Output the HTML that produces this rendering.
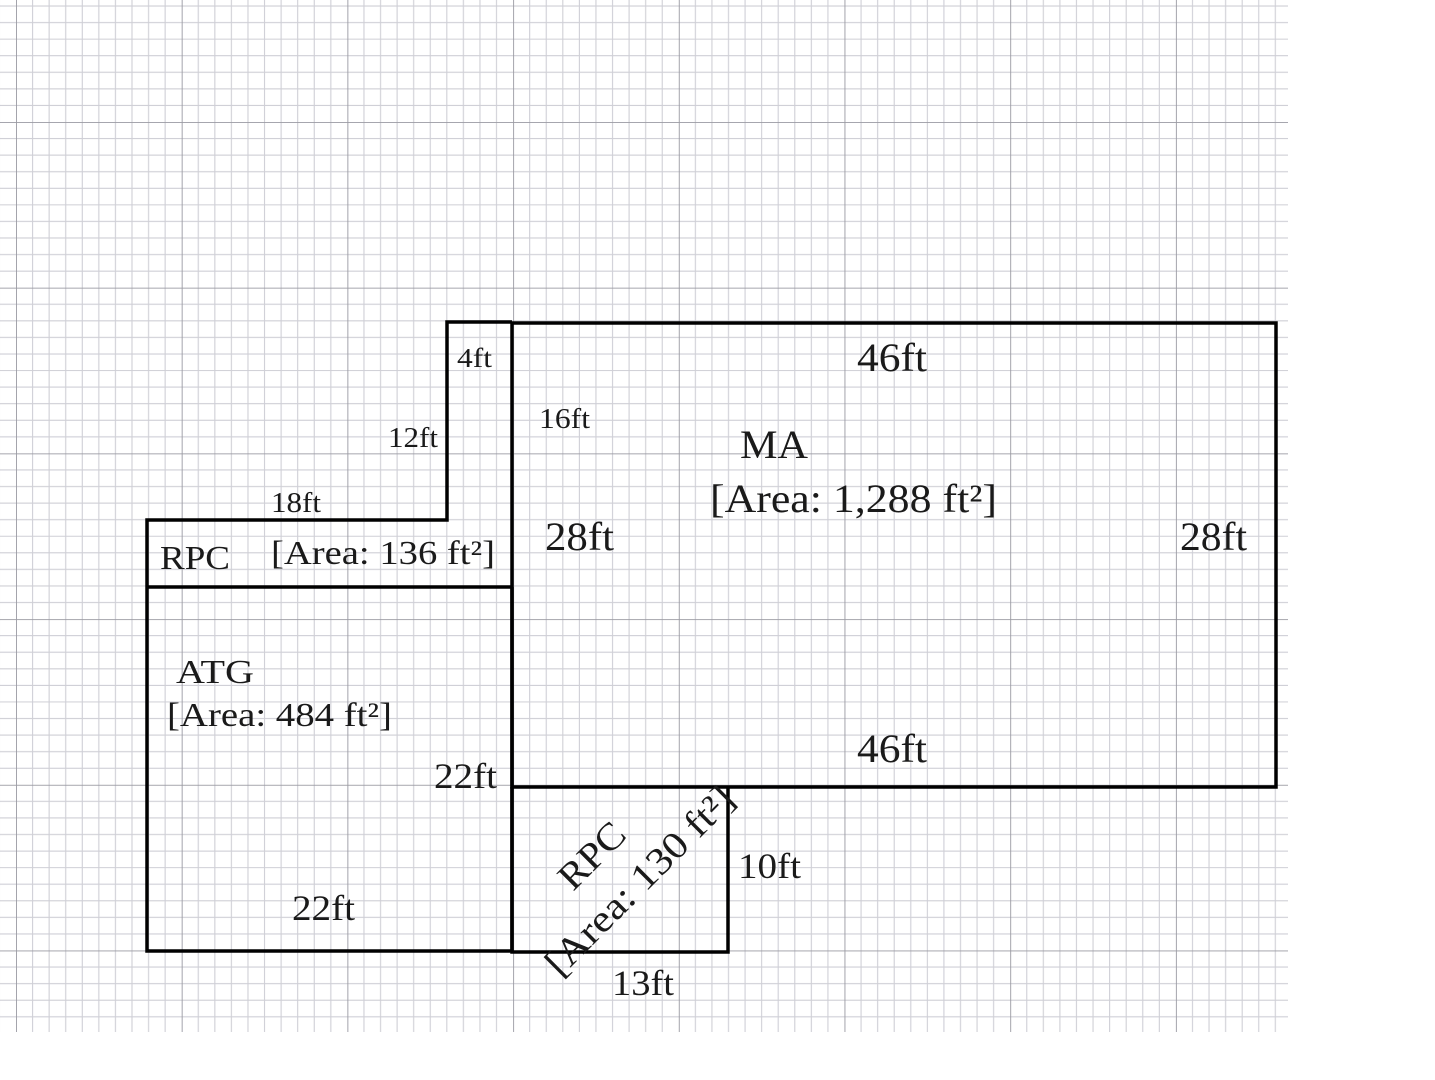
<!DOCTYPE html>
<html><head><meta charset="utf-8"><style>
html,body{margin:0;padding:0;background:#fff;}
svg{display:block;}
text{font-family:"Liberation Serif",serif;fill:#1a1a1a;}
</style></head><body>
<svg width="1435" height="1080" viewBox="0 0 1435 1080" xmlns="http://www.w3.org/2000/svg">
<defs>
<pattern id="g" width="165.7" height="165.7" patternUnits="userSpaceOnUse" patternTransform="translate(16,-43.7)">
<g stroke="#cfcfd6" stroke-width="1.1">
<line x1="16.57" y1="0" x2="16.57" y2="165.7"/><line x1="33.14" y1="0" x2="33.14" y2="165.7"/><line x1="49.71" y1="0" x2="49.71" y2="165.7"/><line x1="66.28" y1="0" x2="66.28" y2="165.7"/><line x1="82.85" y1="0" x2="82.85" y2="165.7"/><line x1="99.42" y1="0" x2="99.42" y2="165.7"/><line x1="115.99" y1="0" x2="115.99" y2="165.7"/><line x1="132.56" y1="0" x2="132.56" y2="165.7"/><line x1="149.13" y1="0" x2="149.13" y2="165.7"/>
<line y1="16.57" x1="0" y2="16.57" x2="165.7"/><line y1="33.14" x1="0" y2="33.14" x2="165.7"/><line y1="49.71" x1="0" y2="49.71" x2="165.7"/><line y1="66.28" x1="0" y2="66.28" x2="165.7"/><line y1="82.85" x1="0" y2="82.85" x2="165.7"/><line y1="99.42" x1="0" y2="99.42" x2="165.7"/><line y1="115.99" x1="0" y2="115.99" x2="165.7"/><line y1="132.56" x1="0" y2="132.56" x2="165.7"/><line y1="149.13" x1="0" y2="149.13" x2="165.7"/>
</g>
<g stroke="#9a9aa2" stroke-width="1.8">
<line x1="0" y1="0" x2="0" y2="165.7"/><line x1="0" y1="0" x2="165.7" y2="0"/>
</g>
</pattern>
</defs>
<rect x="0" y="0" width="1288" height="1032" fill="url(#g)"/>
<g fill="none" stroke="#000" stroke-width="3.5" stroke-linejoin="miter">
<rect x="512" y="323" width="764" height="464"/>
<polyline points="147,586 147,520 447,520 447,322 512,322"/>
<line x1="147" y1="587" x2="512" y2="587"/>
<polyline points="147,586 147,951 512,951 512,587"/>
<polyline points="512,787 512,952 728,952 728,787"/>
</g>
<text x="857" y="371" font-size="40" textLength="70" lengthAdjust="spacingAndGlyphs">46ft</text>
<text x="740" y="458" font-size="40" textLength="68" lengthAdjust="spacingAndGlyphs">MA</text>
<text x="710" y="512" font-size="40" textLength="287" lengthAdjust="spacingAndGlyphs">[Area: 1,288 ft²]</text>
<text x="545" y="550" font-size="40" textLength="69" lengthAdjust="spacingAndGlyphs">28ft</text>
<text x="1180" y="550" font-size="40" textLength="67" lengthAdjust="spacingAndGlyphs">28ft</text>
<text x="857" y="762" font-size="40" textLength="70" lengthAdjust="spacingAndGlyphs">46ft</text>
<text x="539" y="428" font-size="28" textLength="51" lengthAdjust="spacingAndGlyphs">16ft</text>
<text x="457" y="367" font-size="27" textLength="35" lengthAdjust="spacingAndGlyphs">4ft</text>
<text x="388" y="447" font-size="28" textLength="50" lengthAdjust="spacingAndGlyphs">12ft</text>
<text x="271" y="512" font-size="28" textLength="50" lengthAdjust="spacingAndGlyphs">18ft</text>
<text x="160" y="569" font-size="34" textLength="70" lengthAdjust="spacingAndGlyphs">RPC</text>
<text x="271" y="564" font-size="34" textLength="224" lengthAdjust="spacingAndGlyphs">[Area: 136 ft²]</text>
<text x="176" y="683" font-size="34" textLength="78" lengthAdjust="spacingAndGlyphs">ATG</text>
<text x="167" y="726" font-size="34" textLength="225" lengthAdjust="spacingAndGlyphs">[Area: 484 ft²]</text>
<text x="434" y="788" font-size="36" textLength="63" lengthAdjust="spacingAndGlyphs">22ft</text>
<text x="292" y="920" font-size="36" textLength="63" lengthAdjust="spacingAndGlyphs">22ft</text>
<text x="738" y="878" font-size="36" textLength="63" lengthAdjust="spacingAndGlyphs">10ft</text>
<text x="612" y="995" font-size="36" textLength="62" lengthAdjust="spacingAndGlyphs">13ft</text>
<text transform="translate(573,892) rotate(-45)" font-size="38" textLength="78" lengthAdjust="spacingAndGlyphs">RPC</text>
<text transform="translate(560,978) rotate(-45)" font-size="38" textLength="250" lengthAdjust="spacingAndGlyphs">[Area: 130 ft²]</text>
</svg>
</body></html>
